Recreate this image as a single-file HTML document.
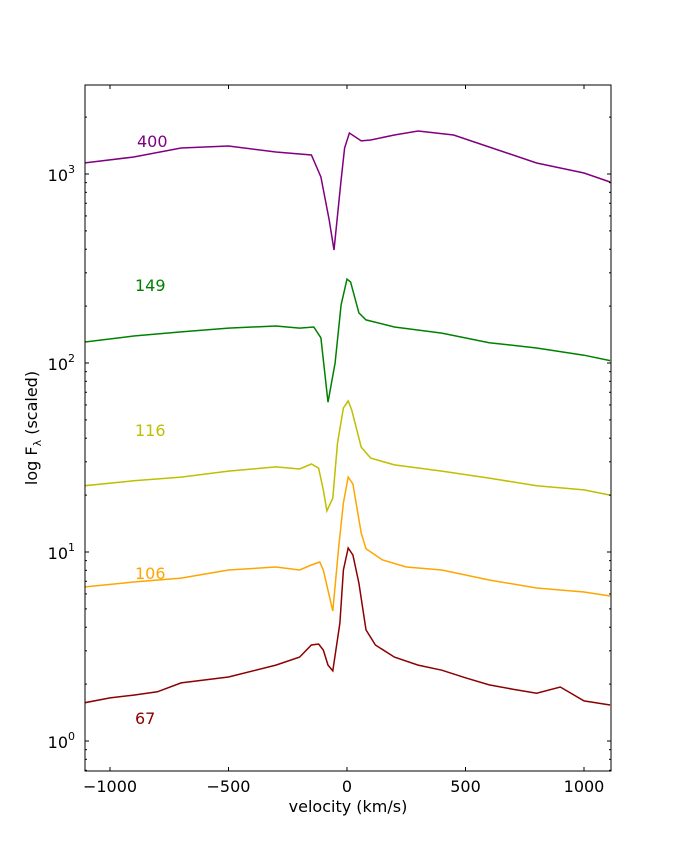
<!DOCTYPE html>
<html><head><meta charset="utf-8"><style>
body{margin:0;background:#fff;}
svg{display:block;font-family:"DejaVu Sans","Liberation Sans",sans-serif;}
</style></head><body>
<svg id="chart" width="678" height="858"></svg>
<script>
const v400=[-1110,-900,-700,-500,-300,-150,-110,-75,-55,-25,-10,10,60,100,200,300,450,600,800,1000,1110];
const f400=[1143,1230,1373,1406,1307,1261,964,571,396,929,1373,1648,1496,1513,1608,1689,1608,1389,1143,1012,907];
const v149=[-1110,-900,-700,-500,-300,-200,-140,-110,-80,-50,-25,0,15,50,80,200,400,600,800,1000,1110];
const f149=[129,139,146,153,157,153,155,136,62,100,203,278,268,184,169,155,144,128,120,110,103];
const v116=[-1110,-900,-700,-500,-300,-200,-150,-120,-100,-85,-60,-40,-15,5,20,60,100,200,400,600,800,1000,1110];
const f116=[22.4,23.8,24.9,26.8,28.2,27.5,29.2,27.8,21.3,16.5,19.3,37.7,57.8,63,56.4,35.9,31.4,28.9,26.8,24.6,22.4,21.3,20.0];
const v106=[-1110,-900,-700,-500,-300,-200,-150,-115,-100,-60,-35,-15,5,25,60,80,150,250,400,600,800,1000,1110];
const f106=[6.53,6.94,7.28,8.03,8.33,8.03,8.54,8.85,8.03,4.87,10.6,18.2,24.9,22.9,12.6,10.4,9.07,8.33,8.03,7.11,6.45,6.14,5.85];
const v67=[-1110,-1000,-900,-800,-700,-500,-300,-200,-150,-120,-100,-80,-60,-30,-15,5,25,50,80,120,200,300,400,500,600,700,800,900,1000,1110];
const f67=[1.59,1.69,1.75,1.82,2.03,2.18,2.52,2.78,3.22,3.26,3.03,2.52,2.35,4.21,8.03,10.5,9.64,6.85,3.87,3.22,2.78,2.52,2.37,2.16,1.98,1.88,1.79,1.93,1.63,1.55];
const xTicks=[-1000,-500,0,500,1000];
const yDecades=[0,1,2,3];

const NS="http://www.w3.org/2000/svg";
const svg=document.getElementById('chart');
const L=85,R=611,T=85,B=771;
const X0=347,XS=0.237;
const Y0=741,YS=189;
function xs(v){return X0+XS*v;}
function ys(f){return Y0-YS*Math.log10(f);}
function mk(tag,attrs){const e=document.createElementNS(NS,tag);for(const k in attrs)e.setAttribute(k,attrs[k]);svg.appendChild(e);return e;}

const series=[
 {v:v400,f:f400,c:'#800080',name:'series-400',lab:'400',lx:137,ly:147},
 {v:v149,f:f149,c:'#008000',name:'series-149',lab:'149',lx:135,ly:291},
 {v:v116,f:f116,c:'#bfbf00',name:'series-116',lab:'116',lx:135,ly:436},
 {v:v106,f:f106,c:'#ffa500',name:'series-106',lab:'106',lx:135,ly:579},
 {v:v67,f:f67,c:'#8b0000',name:'series-67',lab:'67',lx:135,ly:724}
];
const cp=mk('clipPath',{id:'cp'});
const cr=document.createElementNS(NS,'rect');
cr.setAttribute('x',L);cr.setAttribute('y',T);cr.setAttribute('width',R-L);cr.setAttribute('height',B-T);
cp.appendChild(cr);
series.forEach(s=>{
 const d=s.v.map((v,i)=>(i?'L':'M')+xs(v).toFixed(1)+','+ys(s.f[i]).toFixed(1)).join(' ');
 const p=mk('path',{d:d,fill:'none',stroke:s.c,'stroke-width':1.5,'clip-path':'url(#cp)'});
 
 
 const t=mk('text',{x:s.lx,y:s.ly,fill:s.c,'font-size':16});
 t.textContent=s.lab;
 
 
});
const frame=mk('rect',{x:L,y:T,width:R-L,height:B-T,fill:'none',stroke:'#000','stroke-width':1});


xTicks.forEach(v=>{
 const x=xs(v);
 mk('line',{x1:x,x2:x,y1:B,y2:B-4,stroke:'#000'});
 mk('line',{x1:x,x2:x,y1:T,y2:T+4,stroke:'#000'});
 const t=mk('text',{x:x,y:B+21,'text-anchor':'middle','font-size':16});
 t.textContent=(v<0?'\u2212'+(-v):v);
 
 
});
yDecades.forEach(d=>{
 for(let m=1;m<10;m++){
  const val=m*Math.pow(10,d);const y=ys(val);
  if(y<T||y>B)continue;
  const len=m===1?4:2;
  mk('line',{x1:L,x2:L+len,y1:y,y2:y,stroke:'#000'});
  mk('line',{x1:R,x2:R-len,y1:y,y2:y,stroke:'#000'});
 }
 const t=mk('text',{x:L-10,y:ys(Math.pow(10,d))+7,'text-anchor':'end','font-size':16});
 t.innerHTML='10<tspan dy="-8" font-size="11">'+d+'</tspan>';
 
 
});
[0.7,0.8,0.9].forEach(val=>{const y=ys(val);if(y<=B){mk('line',{x1:L,x2:L+2,y1:y,y2:y,stroke:'#000'});mk('line',{x1:R,x2:R-2,y1:y,y2:y,stroke:'#000'});}});
const xt=mk('text',{x:348,y:812,'text-anchor':'middle','font-size':16});
xt.textContent='velocity (km/s)';


const yt=mk('text',{x:37,y:428,'text-anchor':'middle','font-size':16,transform:'rotate(-90 37 428)'});
yt.innerHTML='log F<tspan dy="4" font-size="11">\u03bb</tspan><tspan dy="-4"> (scaled)</tspan>';


</script>
</body></html>
